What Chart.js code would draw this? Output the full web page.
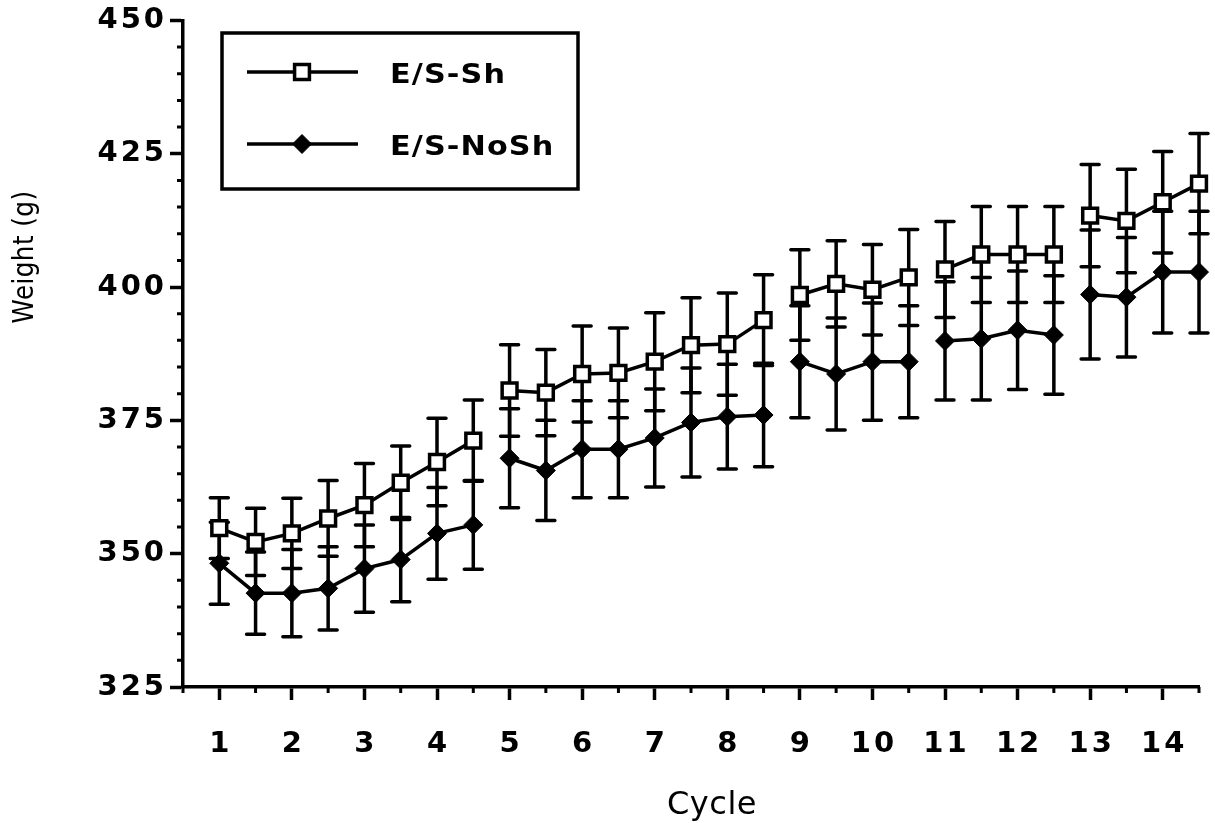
<!DOCTYPE html>
<html>
<head>
<meta charset="utf-8">
<script src="https://cdn.jsdelivr.net/npm/chart.js@4.4.0/dist/chart.umd.min.js"></script>
<style>
  html, body { margin: 0; padding: 0; background: #fff; }
</style>
</head>
<body>
<canvas id="weightChart" width="1215" height="823"></canvas>
<script>
// half-cycle sampling points, line is broken before each block start
const cycles = [1, 1.5, 2, 2.5, 3, 3.5, 4, 4.5,
                5, 5.5, 6, 6.5, 7, 7.5, 8, 8.5,
                9, 9.5, 10, 10.5,
                11, 11.5, 12, 12.5,
                13, 13.5, 14, 14.5];
const blockStarts = [5, 9, 11, 13];

const shMean = [354.8, 352.2, 353.8, 356.6, 359.1, 363.3, 367.2, 371.2,
                380.6, 380.2, 383.7, 383.9, 386.0, 389.1, 389.3, 393.8,
                398.5, 400.6, 399.5, 401.8,
                403.3, 406.1, 406.1, 406.1,
                413.4, 412.4, 415.9, 419.4];
const shSd = [5.7, 6.3, 6.6, 7.1, 7.8, 6.9, 8.2, 7.6,
              8.6, 8.1, 9.0, 8.4, 9.2, 8.9, 9.6, 8.5,
              8.5, 8.1, 8.5, 9.0,
              9.0, 9.0, 9.0, 9.0,
              9.6, 9.7, 9.5, 9.4];

const noShMean = [348.2, 342.6, 342.6, 343.5, 347.2, 348.9, 353.8, 355.4,
                  367.9, 365.6, 369.6, 369.6, 371.7, 374.6, 375.7, 376.0,
                  386.0, 383.7, 386.0, 386.0,
                  389.9, 390.3, 391.9, 391.0,
                  398.6, 398.1, 402.8, 402.8];
const noShSd = [7.7, 7.7, 8.2, 7.8, 8.2, 7.9, 8.6, 8.3,
                9.3, 9.4, 9.1, 9.1, 9.2, 10.2, 9.8, 9.7,
                10.5, 10.5, 11.0, 10.5,
                11.1, 11.5, 11.1, 11.1,
                12.1, 11.2, 11.4, 11.4];

const seriesLabels = ["E/S-Sh", "E/S-NoSh"];
const xTickValues = [1, 2, 3, 4, 5, 6, 7, 8, 9, 10, 11, 12, 13, 14];
const yTickValues = [325, 350, 375, 400, 425, 450];

const toPoints = (means, sds) => {
    const pts = [];
    cycles.forEach((c, i) => {
        if (blockStarts.includes(c)) pts.push({x: c - 0.25, y: null});
        pts.push({x: c, y: means[i], sd: sds[i]});
    });
    return pts;
};

const errorBars = {
    id: "errorBars",
    beforeDatasetsDraw(chart) {
        const ctx = chart.ctx;
        const y = chart.scales.y;
        ctx.save();
        ctx.strokeStyle = "#000";
        ctx.lineWidth = 3.5;
        ctx.lineCap = "round";
        chart.data.datasets.forEach((ds, i) => {
            chart.getDatasetMeta(i).data.forEach((pt, j) => {
                const d = ds.data[j];
                if (d.y === null) return;
                const top = y.getPixelForValue(d.y + d.sd);
                const bot = y.getPixelForValue(d.y - d.sd);
                ctx.beginPath();
                ctx.moveTo(pt.x, top); ctx.lineTo(pt.x, bot);
                ctx.moveTo(pt.x - 9, top); ctx.lineTo(pt.x + 9, top);
                ctx.moveTo(pt.x - 9, bot); ctx.lineTo(pt.x + 9, bot);
                ctx.stroke();
            });
        });
        ctx.restore();
    }
};

// short ticks between the labelled ones
const minorTicks = {
    id: "minorTicks",
    afterDraw(chart) {
        const {ctx, chartArea, scales: {x, y}} = chart;
        ctx.save();
        ctx.strokeStyle = "#000";
        ctx.lineWidth = 3;
        ctx.beginPath();
        for (let v = 330; v < 450; v += 5) {
            if (v % 25 === 0) continue;
            const py = y.getPixelForValue(v);
            ctx.moveTo(chartArea.left - 6, py);
            ctx.lineTo(chartArea.left, py);
        }
        for (let v = 0.5; v <= 14.5; v += 1) {
            const px = x.getPixelForValue(v);
            ctx.moveTo(px, chartArea.bottom);
            ctx.lineTo(px, chartArea.bottom + 6);
        }
        ctx.stroke();
        ctx.restore();
    }
};

const legendBox = {
    id: "legendBox",
    afterDraw(chart) {
        const ctx = chart.ctx;
        const rows = [72, 144];
        ctx.save();
        ctx.strokeStyle = "#000";
        ctx.lineWidth = 3.5;
        ctx.strokeRect(222, 33, 356, 156);
        chart.data.datasets.forEach((ds, i) => {
            const ly = rows[i];
            ctx.lineWidth = 3.5;
            ctx.strokeStyle = "#000";
            ctx.beginPath();
            ctx.moveTo(247, ly);
            ctx.lineTo(358, ly);
            ctx.stroke();
            ctx.fillStyle = ds.pointBackgroundColor;
            ctx.strokeStyle = ds.pointBorderColor;
            ctx.lineWidth = ds.pointBorderWidth;
            Chart.helpers.drawPoint(ctx, {
                pointStyle: ds.pointStyle,
                radius: ds.pointRadius,
                rotation: 0,
                borderWidth: ds.pointBorderWidth
            }, 302, ly);
            // wide face: stretch the label sideways
            ctx.save();
            ctx.fillStyle = "#000";
            ctx.font = "bold 27px 'DejaVu Sans'";
            ctx.letterSpacing = "1px";
            ctx.textBaseline = "middle";
            ctx.textAlign = "left";
            ctx.translate(390, ly + 4);
            ctx.scale(1.12, 1);
            ctx.fillText(ds.label, 0, 0);
            ctx.restore();
        });
        ctx.restore();
    }
};

const axisTitles = {
    id: "axisTitles",
    afterDraw(chart) {
        const ctx = chart.ctx;
        ctx.save();
        ctx.fillStyle = "#000";
        ctx.textAlign = "center";
        ctx.textBaseline = "alphabetic";
        ctx.letterSpacing = "0.5px";
        ctx.font = "32px 'DejaVu Sans'";
        ctx.fillText("Cycle", 712, 814);
        // narrow face for the rotated title
        ctx.font = "28px 'DejaVu Sans'";
        ctx.translate(33, 257);
        ctx.rotate(-Math.PI / 2);
        ctx.scale(0.88, 1);
        ctx.fillText("Weight (g)", 0, 0);
        ctx.restore();
    }
};

// a little tracking for the tick numbers
const tracking = {
    id: "tracking",
    beforeDraw(chart) { chart.ctx.letterSpacing = "3px"; },
    afterDraw(chart) { chart.ctx.letterSpacing = "0px"; }
};

const tickFont = {family: "DejaVu Sans", size: 29, weight: "bold"};

new Chart(document.getElementById("weightChart"), {
    type: "line",
    data: {
        datasets: [{
            label: seriesLabels[0],
            data: toPoints(shMean, shSd),
            borderColor: "#000",
            borderWidth: 3.5,
            pointStyle: "rect",
            pointRadius: 10.5,
            pointBackgroundColor: "#fff",
            pointBorderColor: "#000",
            pointBorderWidth: 3.5,
            clip: false
        }, {
            label: seriesLabels[1],
            data: toPoints(noShMean, noShSd),
            borderColor: "#000",
            borderWidth: 3.5,
            pointStyle: "rectRot",
            pointRadius: 9.5,
            pointBackgroundColor: "#000",
            pointBorderColor: "#000",
            pointBorderWidth: 1,
            clip: false
        }]
    },
    options: {
        responsive: false,
        animation: false,
        layout: {padding: {top: 20, right: 16, bottom: 0, left: 0}},
        plugins: {
            legend: {display: false},
            tooltip: {enabled: false}
        },
        scales: {
            x: {
                type: "linear",
                min: 0.5,
                max: 14.5,
                afterBuildTicks: (axis) => { axis.ticks = xTickValues.map(v => ({value: v})); },
                afterFit: (axis) => { axis.height = 136; },
                grid: {drawOnChartArea: false, tickLength: 13, tickWidth: 3.5, tickColor: "#000"},
                border: {color: "#000", width: 3.5},
                ticks: {color: "#000", font: tickFont, padding: 27, labelOffset: 1.5, maxRotation: 0, autoSkip: false}
            },
            y: {
                type: "linear",
                min: 325,
                max: 450,
                afterBuildTicks: (axis) => { axis.ticks = yTickValues.map(v => ({value: v})); },
                afterFit: (axis) => { axis.width = 183; },
                grid: {drawOnChartArea: false, tickLength: 13, tickWidth: 3.5, tickColor: "#000"},
                border: {color: "#000", width: 3.5},
                ticks: {color: "#000", font: tickFont, padding: 3}
            }
        }
    },
    plugins: [errorBars, minorTicks, legendBox, axisTitles, tracking]
});
</script>
</body>
</html>
